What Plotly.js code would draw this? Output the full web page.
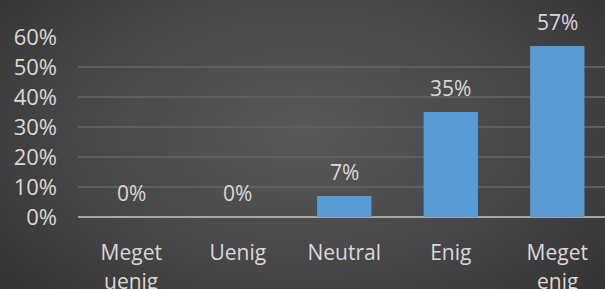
<!DOCTYPE html>
<html><head><meta charset="utf-8">
<script src="https://cdn.plot.ly/plotly-3.0.1.min.js"></script>
<style>
html,body{margin:0;padding:0;width:605px;height:289px;overflow:hidden;}
body{background:radial-gradient(ellipse 75% 95% at 50% 45%, #595959 0%, #474747 50%, #2d2d2d 100%);}
#chart{width:605px;height:289px;}
</style></head>
<body><div id="chart"></div>
<script>
var categories = ["Meget uenig","Uenig","Neutral","Enig","Meget enig"];
var line1 = ["Meget","Uenig","Neutral","Enig","Meget"];
var line2 = ["uenig","","","","enig"];
var values = [0, 0, 7, 35, 57];
var labels = ["0%","0%","7%","35%","57%"];
var yTicks = [0,10,20,30,40,50,60];
var yTickText = ["0%","10%","20%","30%","40%","50%","60%"];

var font = "'Open Sans', Lato, sans-serif";
var txtColor = "#d9d9d9";

var trace = {
  type: "bar",
  x: categories,
  y: values,
  marker: {color: "#5b9bd5", line: {width: 0}},
  hoverinfo: "none"
};

var annotations = [];
categories.forEach(function(c, i){
  annotations.push({x: c, y: values[i], xref: "x", yref: "y", text: labels[i], showarrow: false,
    yanchor: "middle", yshift: 24, font: {family: font, size: 21, color: txtColor}});
  if (line2[i]) annotations.push({x: c, y: 0, xref: "x", yref: "y", text: line2[i], showarrow: false,
    yanchor: "middle", yshift: -64, font: {family: font, size: 21, color: txtColor}});
});

var layout = {
  width: 605, height: 289,
  margin: {l: 78, r: 0, t: 37, b: 72},
  paper_bgcolor: "rgba(0,0,0,0)",
  plot_bgcolor: "rgba(0,0,0,0)",
  showlegend: false,
  bargap: 0.49,
  xaxis: {
    type: "category",
    range: [-0.5, 4.448],
    tickvals: categories,
    ticktext: line1,
    tickfont: {family: font, size: 21, color: txtColor},
    showgrid: false, showline: false, zeroline: false, ticks: "",
    ticklabelstandoff: 21
  },
  yaxis: {
    range: [0, 60],
    tickvals: yTicks,
    ticktext: yTickText,
    tickfont: {family: font, size: 22, color: txtColor},
    showgrid: true, gridcolor: "#5f5f5f", gridwidth: 2,
    zeroline: true, zerolinecolor: "#a6a6a6", zerolinewidth: 2,
    showline: false, ticks: "", ticklabelstandoff: 20
  },
  annotations: annotations
};

Plotly.newPlot("chart", [trace], layout, {displayModeBar: false, staticPlot: true});
</script></body></html>
